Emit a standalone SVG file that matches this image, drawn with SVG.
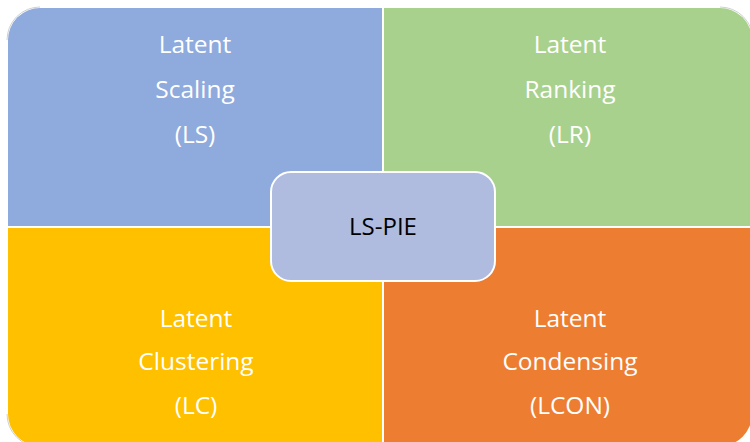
<svg xmlns="http://www.w3.org/2000/svg" width="750" height="442" viewBox="0 0 750 442">
<style>
.q{stroke:none}
.lbl{font-family:"Open Sans","Liberation Sans",sans-serif;font-size:24.5px;fill:#ffffff;text-anchor:middle}
.ctr{font-family:"Open Sans","Liberation Sans",sans-serif;font-size:24px;fill:#000000;text-anchor:middle}
.edge{fill:none;stroke:#d0d0d0;stroke-width:1}
</style>
<rect width="750" height="442" fill="#ffffff"/>
<g id="ls">
<path class="q" d="M8,40 A32,32 0 0 1 40,8 L382,8 L382,226 L8,226 Z" fill="#8FAADC"/>
<path class="edge" d="M7,40 A33,33 0 0 1 40,7"/>
<text class="lbl" x="195" y="53">Latent</text>
<text class="lbl" x="195" y="98">Scaling</text>
<text class="lbl" x="195" y="143">(LS)</text>
</g>
<g id="lr">
<path class="q" d="M384,8 L720,8 A32,32 0 0 1 752,40 L752,226 L384,226 Z" fill="#A9D18E"/>
<path class="edge" d="M720,7 A33,33 0 0 1 753,40"/>
<text class="lbl" x="570" y="53">Latent</text>
<text class="lbl" x="570" y="98">Ranking</text>
<text class="lbl" x="570" y="143">(LR)</text>
</g>
<g id="lc">
<path class="q" d="M8,228 L382,228 L382,446 L40,446 A32,32 0 0 1 8,414 Z" fill="#FFC000"/>
<path class="edge" d="M7,414 A33,33 0 0 0 40,447"/>
<text class="lbl" x="196" y="327">Latent</text>
<text class="lbl" x="196" y="370">Clustering</text>
<text class="lbl" x="196" y="414">(LC)</text>
</g>
<g id="lcon">
<path class="q" d="M384,228 L752,228 L752,414 A32,32 0 0 1 720,446 L384,446 Z" fill="#ED7D31"/>
<text class="lbl" x="570" y="327">Latent</text>
<text class="lbl" x="570" y="370">Condensing</text>
<text class="lbl" x="570" y="414">(LCON)</text>
</g>
<g id="connectors"></g>
<g id="lspie">
<rect x="271" y="172" width="224" height="109" rx="20" ry="20" fill="#AFBBDF" stroke="#ffffff" stroke-width="2"/>
<text class="ctr" x="383" y="235">LS-PIE</text>
</g>
</svg>
